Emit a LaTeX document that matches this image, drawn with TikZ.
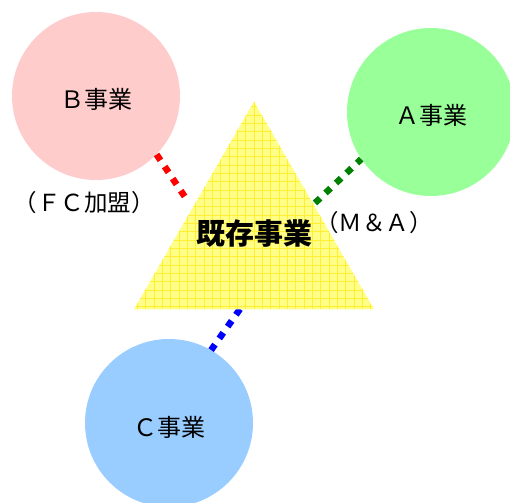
\documentclass[tikz,border=0pt]{standalone}
\usepackage{fontspec}
\setmainfont{Noto Sans CJK JP}
\usetikzlibrary{shapes.geometric}
\definecolor{bpink}{HTML}{FFCCCC}
\definecolor{agreen}{HTML}{99FF99}
\definecolor{cblue}{HTML}{99CCFF}
\definecolor{dkgreen}{HTML}{008000}
\definecolor{tfill}{HTML}{FFFF88}
\definecolor{tline}{HTML}{FFEE33}
\begin{document}
\begin{tikzpicture}[x=1pt,y=-1pt,
  biz/.style={circle, minimum size=168pt, inner sep=0pt, text height=29pt, text depth=3pt, font=\fontsize{24}{27}\selectfont},
  tie/.style={line width=6.5pt, dash pattern=on 7pt off 7.5pt},
  lbl/.style={inner sep=0pt, font=\fontsize{23.5}{26}\selectfont}]
\useasboundingbox (0,0) rectangle (510,502);
\node[biz, fill=bpink] (bz1) at (96,96){Ｂ事業};
\node[biz, fill=agreen] (bz0) at (431,112){Ａ事業};
\node[biz, fill=cblue] (bz2) at (169,423){Ｃ事業};
\coordinate (tp1) at (187,200);
\coordinate (tp0) at (315,203);
\coordinate (tp2) at (240,309);
\draw[tie, red](bz1.-44) -- (tp1);
\draw[tie, dkgreen](tp0) -- (bz0.214);
\draw[tie, blue](tp2) -- (bz2.60);
\node[regular polygon, regular polygon sides=3, minimum size=277pt, inner sep=0pt, fill=tfill,
  path picture={\draw[tline, line width=0.7pt, x=1pt, y=1pt, step=8.33] (path picture bounding box.south west) grid (path picture bounding box.north east);}] (tri) at (254,240){};
\node[lbl, font=\fontsize{29}{32}\selectfont\bfseries] (core) at (254,234){既存事業};
\node[lbl] (fc) at (84,203){（ＦＣ加盟）};
\node[lbl] (ma) at (374,223){（Ｍ＆Ａ）};
\end{tikzpicture}
\end{document}
